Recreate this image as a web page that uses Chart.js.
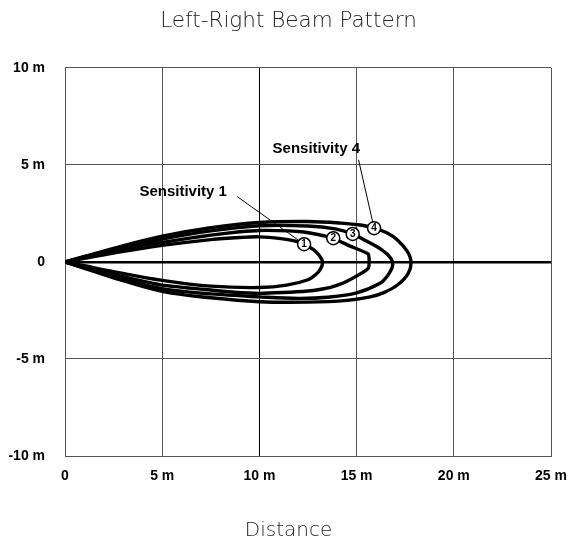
<!DOCTYPE html>
<html>
<head>
<meta charset="utf-8">
<script src="https://cdn.jsdelivr.net/npm/chart.js@4.4.1/dist/chart.umd.min.js"></script>
<style>
  html, body { margin: 0; padding: 0; background: #fff; }
  #wrap { width: 569px; height: 544px; }
</style>
</head>
<body>
<div id="wrap"><canvas id="beam"></canvas></div>
<script>
// Beam outlines, [distance m, lateral m], traced from origin round the tip and back
const sens1 = [[0,0],[1,0.19],[2.5,0.46],[5,0.85],[7.5,1.15],[9,1.26],[10,1.29],[11.1,1.2],[11.8,1.08],[12.3,0.91],[12.8,0.62],[13.1,0.3],[13.25,0],[13.15,-0.35],[12.9,-0.65],[12.5,-0.92],[11.4,-1.2],[10,-1.32],[7.5,-1.25],[5,-0.95],[2.5,-0.5],[1,-0.2],[0,0]];
const sens2 = [[0,0],[1,0.22],[2.5,0.55],[4,0.85],[5,1.0],[6.5,1.24],[7.5,1.38],[9,1.55],[10,1.62],[11.5,1.6],[12.3,1.54],[12.8,1.45],[13.4,1.33],[13.8,1.22],[14.7,0.8],[15.6,0.4],[15.6,-0.33],[14.5,-1.0],[13.7,-1.3],[13.1,-1.42],[12.5,-1.5],[11.2,-1.58],[10,-1.62],[8.7,-1.56],[7.5,-1.45],[6.2,-1.33],[5,-1.2],[3.7,-0.93],[2.5,-0.65],[1,-0.26],[0,0]];
const sens3 = [[0,0],[1,0.26],[2.5,0.64],[5,1.18],[7.5,1.6],[10,1.86],[12.5,1.85],[13.9,1.7],[14.8,1.44],[15.4,1.13],[16.3,0.62],[16.75,0.2],[16.85,-0.2],[16.6,-0.7],[16.2,-1.1],[15.0,-1.6],[13.5,-1.82],[12,-1.88],[10,-1.8],[7.5,-1.65],[5,-1.38],[2.5,-0.75],[1,-0.3],[0,0]];
const sens4 = [[0,0],[1,0.28],[2.5,0.7],[5,1.32],[7.5,1.76],[10,2.03],[12.5,2.08],[14.2,2.0],[15.2,1.9],[15.9,1.74],[16.6,1.48],[17.1,1.13],[17.6,0.55],[17.8,0],[17.65,-0.6],[17.1,-1.19],[16.4,-1.58],[15.7,-1.8],[14.5,-1.98],[12.5,-2.07],[10,-2.05],[7.5,-1.85],[5,-1.52],[2.5,-0.82],[1,-0.33],[0,0]];

// numbered markers sitting on each outline
const markerX = [12.3, 13.8, 14.8, 15.9];
const markerY = [0.91, 1.22, 1.44, 1.74];
const markerLabels = ['1', '2', '3', '4'];

// callout text and leader lines
const noteTexts = ['Sensitivity 1', 'Sensitivity 4'];
const noteX = [6.08, 12.93];
const noteY = [3.62, 5.82];
const leader1 = [[8.85, 3.37], [12.3, 0.91]];
const leader4 = [[15.1, 5.26], [15.9, 1.74]];

const xTicks = [0, 5, 10, 15, 20, 25];
const yTicks = [-10, -5, 0, 5, 10];

const toPts = arr => arr.map(p => ({ x: p[0], y: p[1] }));
const meters = v => (v === 0 ? '0' : v + ' m');
const sans = '"Liberation Sans", Arial, sans-serif';

function outline(data, tension) {
    return {
        data: toPts(data),
        showLine: true,
        borderColor: '#000',
        borderWidth: 3.4,
        pointRadius: 0,
        tension: tension,
        fill: false
    };
}

function leader(data) {
    return { data: toPts(data), showLine: true, borderColor: '#000', borderWidth: 1, pointRadius: 0, tension: 0 };
}

// draws the callout text and the digits inside the markers
const notesPlugin = {
    id: 'notes',
    afterDatasetsDraw(chart) {
        const { ctx, scales: { x, y } } = chart;
        ctx.save();
        ctx.fillStyle = '#000';
        ctx.textAlign = 'center';
        ctx.textBaseline = 'middle';
        ctx.font = 'bold 15px ' + sans;
        noteTexts.forEach((t, i) => {
            ctx.fillText(t, x.getPixelForValue(noteX[i]), y.getPixelForValue(noteY[i]));
        });
        ctx.font = 'bold 10px ' + sans;
        markerLabels.forEach((t, i) => {
            ctx.fillText(t, x.getPixelForValue(markerX[i]), y.getPixelForValue(markerY[i]) + 0.5);
        });
        ctx.restore();
    }
};

const tickFont = { family: sans, size: 14, weight: 'bold' };

new Chart(document.getElementById('beam'), {
    type: 'scatter',
    data: {
        datasets: [
            {
                // markers first so they are painted over the outlines
                data: markerX.map((v, i) => ({ x: v, y: markerY[i] })),
                pointRadius: 6.5,
                pointBackgroundColor: '#fff',
                pointBorderColor: '#000',
                pointBorderWidth: 1.5,
                showLine: false
            },
            outline(sens1, 0.35),
            outline(sens2, 0.15),
            outline(sens3, 0.35),
            outline(sens4, 0.35),
            leader(leader1),
            leader(leader4)
        ]
    },
    options: {
        responsive: true,
        maintainAspectRatio: false,
        animation: false,
        layout: { padding: { left: 9, right: 1, top: 0, bottom: 0 } },
        plugins: {
            legend: { display: false },
            tooltip: { enabled: false },
            title: {
                display: true,
                text: 'Left-Right Beam Pattern',
                color: '#222',
                font: { family: '"DejaVu Sans", sans-serif', size: 21.5, weight: 300 },
                padding: { top: 9, bottom: 33 }
            },
            subtitle: {
                display: true,
                position: 'bottom',
                text: 'Distance',
                color: '#222',
                font: { family: '"DejaVu Sans", sans-serif', size: 20, weight: 300 },
                padding: { top: 23, bottom: 1 }
            }
        },
        scales: {
            x: {
                type: 'linear',
                min: 0,
                max: 25,
                afterBuildTicks: s => { s.ticks = xTicks.map(v => ({ value: v })); },
                afterFit: s => { s.height = 40; s.paddingLeft = 0; s.paddingRight = 18; },
                ticks: { color: '#000', font: tickFont, padding: 12, callback: meters, maxRotation: 0 },
                grid: {
                    drawTicks: false,
                    color: c => (c.tick && c.tick.value === 10 ? '#000' : '#555'),
                    lineWidth: 1
                },
                border: { color: '#555', width: 1 }
            },
            y: {
                type: 'linear',
                min: -10,
                max: 10,
                afterBuildTicks: s => { s.ticks = yTicks.map(v => ({ value: v })); },
                afterFit: s => { s.width = 56; },
                ticks: { color: '#000', font: tickFont, padding: 20, callback: meters },
                grid: {
                    drawTicks: false,
                    color: c => (c.tick && c.tick.value === 0 ? '#000' : '#555'),
                    lineWidth: c => (c.tick && c.tick.value === 0 ? 2.5 : 1)
                },
                border: { color: '#555', width: 1 }
            }
        }
    },
    plugins: [notesPlugin]
});
</script>
</body>
</html>
